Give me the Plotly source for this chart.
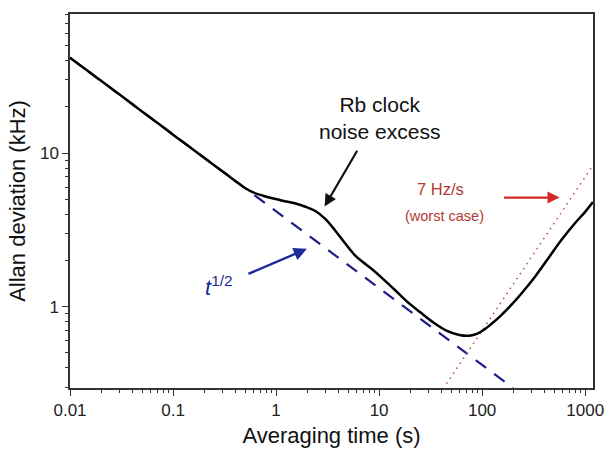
import plotly.graph_objects as go

# Measured Allan deviation (kHz) vs averaging time (s)
tau = [0.01, 0.02, 0.05, 0.1, 0.2, 0.3, 0.4, 0.5, 0.6, 0.75, 0.9, 1.16, 1.55, 1.93, 2.41,
       3.0, 3.74, 4.65, 5.8, 7.0, 8.5, 10, 12, 14, 18.7, 25.1, 33.6, 45, 60, 75,
       90, 105, 125, 150, 190, 243, 326, 437, 585, 784, 1000, 1190]
adev = [41.8, 29.6, 18.7, 13.2, 9.35, 7.63, 6.6, 5.93, 5.55, 5.28, 5.1, 4.90, 4.70, 4.48, 4.2,
        3.73, 3.14, 2.6, 2.17, 1.95, 1.76, 1.60, 1.43, 1.30, 1.08, 0.92, 0.79, 0.70, 0.655, 0.648,
        0.668, 0.71, 0.78, 0.87, 1.02, 1.23, 1.57, 2.06, 2.71, 3.46, 4.15, 4.8]

# tau^-1/2 white-noise reference line
white_tau = [0.01, 200]
white_adev = [41.8, 0.2956]

# 7 Hz/s drift (worst case), kHz
drift_tau = [45, 1200]
drift_adev = [0.315, 8.4]

x_ticks = [0.01, 0.1, 1, 10, 100, 1000]
x_ticktext = ["0.01", "0.1", "1", "10", "100", "1000"]
y_ticks = [1, 10]
y_ticktext = ["1", "10"]

x_minor = [m * 10 ** e for e in range(-2, 4) for m in range(2, 10)]
y_minor = [m * 10 ** e for e in range(-1, 2) for m in range(2, 10)]

fig = go.Figure()
fig.add_trace(go.Scatter(x=white_tau, y=white_adev, mode="lines",
                         line=dict(color="#1c1c8a", width=2.2, dash="13px,10px"),
                         showlegend=False))
fig.add_trace(go.Scatter(x=drift_tau, y=drift_adev, mode="lines",
                         line=dict(color="#c0604f", width=1.6, dash="1.6px,4.4px"),
                         showlegend=False))
fig.add_trace(go.Scatter(x=tau, y=adev, mode="lines",
                         line=dict(color="black", width=2.5, shape="spline", smoothing=1.0),
                         showlegend=False))

axis_common = dict(showline=True, linecolor="#333333", linewidth=1.5, mirror=True,
                   ticks="outside", ticklen=6, tickwidth=1.3, tickcolor="#333333",
                   showgrid=False, zeroline=False,
                   tickfont=dict(family="Liberation Sans, Arial", size=17, color="#222222"))

fig.update_xaxes(type="log", range=[-2, 3.076], tickmode="array",
                 tickvals=x_ticks, ticktext=x_ticktext,
                 minor=dict(tickmode="array", tickvals=x_minor, ticks="outside",
                            ticklen=3.5, tickwidth=1.2, tickcolor="#333333", showgrid=False),
                 title=dict(text="Averaging time (s)", standoff=8,
                            font=dict(family="Liberation Sans, Arial", size=22, color="#111111")),
                 **axis_common)
fig.update_yaxes(type="log", range=[-0.529, 1.906], tickmode="array",
                 tickvals=y_ticks, ticktext=y_ticktext,
                 minor=dict(tickmode="array", tickvals=y_minor, ticks="outside",
                            ticklen=3.5, tickwidth=1.2, tickcolor="#333333", showgrid=False),
                 title=dict(text="Allan deviation (kHz)", standoff=8,
                            font=dict(family="Liberation Sans, Arial", size=22, color="#111111")),
                 **axis_common)

W, H, L, B = 532.0, 379.0, 70.0, 393.0


def px(xp):
    return (xp - L) / W


def py(yp):
    return (B - yp) / H


ann = []
ann.append(dict(x=px(385), y=py(119), text="Rb clock<br>noise excess", showarrow=False,
                font=dict(family="Liberation Sans, Arial", size=21, color="#111111"),
                xanchor="center", yanchor="middle"))
ann.append(dict(x=px(329), y=py(209), ax=px(363), ay=py(151),
                text="", showarrow=True, arrowhead=2, arrowsize=1.1, arrowwidth=2.2,
                arrowcolor="#111111"))
ann.append(dict(x=px(447), y=py(191), text="7 Hz/s", showarrow=False,
                font=dict(family="Liberation Sans, Arial", size=16.5, color="#b03a30"),
                xanchor="center", yanchor="middle"))
ann.append(dict(x=px(451), y=py(219), text="(worst case)", showarrow=False,
                font=dict(family="Liberation Sans, Arial", size=14.5, color="#b03a30"),
                xanchor="center", yanchor="middle"))
ann.append(dict(x=px(568), y=py(200), ax=px(510), ay=py(200),
                text="", showarrow=True, arrowhead=2, arrowsize=1.1, arrowwidth=2.2,
                arrowcolor="#d42a24"))
ann.append(dict(x=px(222), y=py(290), text="<i>t</i><sup>1/2</sup>", showarrow=False,
                font=dict(family="Liberation Sans, Arial", size=22, color="#1c2a9a"),
                xanchor="center", yanchor="middle"))
ann.append(dict(x=px(311), y=py(252), ax=px(250), ay=py(278),
                text="", showarrow=True, arrowhead=2, arrowsize=1.1, arrowwidth=2.4,
                arrowcolor="#1c2a9a"))
for a in ann:
    a.update(xref="x domain", yref="y domain")
    if a.get("showarrow"):
        a.update(axref="x domain", ayref="y domain")

fig.update_layout(width=616, height=456, margin=dict(l=70, r=14, t=14, b=63),
                  paper_bgcolor="white", plot_bgcolor="white", annotations=ann,
                  font=dict(family="Liberation Sans, Arial"))

fig.write_html("out.html")
